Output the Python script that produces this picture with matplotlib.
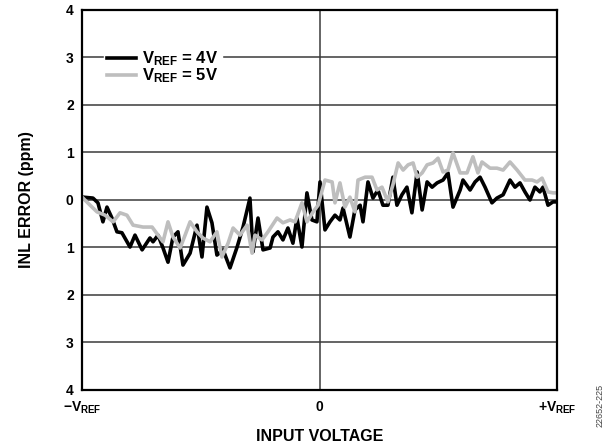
import matplotlib
matplotlib.use("Agg")
from matplotlib import pyplot as plt

plt.rcParams['font.family'] = ['Liberation Sans', 'DejaVu Sans']
plt.rcParams['font.weight'] = 'bold'
plt.rcParams['mathtext.fontset'] = 'custom'
plt.rcParams['mathtext.rm'] = 'Liberation Sans:bold'
plt.rcParams['mathtext.bf'] = 'Liberation Sans:bold'
plt.rcParams['mathtext.it'] = 'Liberation Sans:bold'

# input voltage as fraction of VREF, INL error in ppm
x_4v = [-0.996, -0.954, -0.933, -0.912, -0.895, -0.874, -0.853, -0.832, -0.798, -0.777,
        -0.747, -0.714, -0.701, -0.680, -0.659, -0.638, -0.617, -0.596, -0.575, -0.545,
        -0.516, -0.495, -0.474, -0.453, -0.432, -0.406, -0.377, -0.347, -0.322, -0.293,
        -0.280, -0.259, -0.238, -0.208, -0.196, -0.175, -0.154, -0.133, -0.112, -0.095,
        -0.074, -0.053, -0.032, -0.011, 0.002, 0.023, 0.044, 0.065, 0.086, 0.099,
        0.128, 0.149, 0.171, 0.183, 0.204, 0.225, 0.246, 0.267, 0.288, 0.309,
        0.326, 0.347, 0.368, 0.389, 0.411, 0.432, 0.453, 0.474, 0.495, 0.520,
        0.541, 0.562, 0.592, 0.604, 0.634, 0.655, 0.676, 0.697, 0.726, 0.747,
        0.773, 0.802, 0.823, 0.844, 0.865, 0.886, 0.907, 0.928, 0.941, 0.962,
        0.983, 1.0]
inl_4v = [0.06, 0.04, -0.06, -0.46, -0.15, -0.38, -0.67, -0.69, -0.99, -0.74,
          -1.05, -0.80, -0.88, -0.74, -1.01, -1.31, -0.78, -0.67, -1.37, -1.12,
          -0.53, -1.20, -0.15, -0.48, -1.16, -1.05, -1.43, -0.99, -0.57, 0.04,
          -1.09, -0.38, -1.05, -1.01, -0.78, -0.67, -0.84, -0.59, -0.91, -0.38,
          -0.99, 0.15, -0.42, -0.46, 0.38, -0.63, -0.46, -0.32, -0.42, -0.17,
          -0.78, -0.21, -0.11, -0.46, 0.38, 0.04, 0.21, -0.11, -0.11, 0.48,
          -0.11, 0.11, 0.27, -0.27, 0.59, -0.21, 0.38, 0.27, 0.36, 0.42,
          0.57, -0.15, 0.21, 0.42, 0.21, 0.38, 0.48, 0.27, -0.06, 0.04,
          0.11, 0.42, 0.27, 0.36, 0.17, 0.0, 0.27, 0.17, 0.27, -0.11,
          -0.04, -0.04]

x_5v = [-0.996, -0.966, -0.937, -0.903, -0.869, -0.840, -0.811, -0.785, -0.743, -0.705,
        -0.680, -0.659, -0.638, -0.617, -0.587, -0.566, -0.545, -0.516, -0.491, -0.461,
        -0.432, -0.411, -0.385, -0.364, -0.335, -0.305, -0.284, -0.272, -0.242, -0.217,
        -0.179, -0.154, -0.124, -0.103, -0.074, -0.053, -0.027, -0.006, 0.023, 0.053,
        0.065, 0.086, 0.107, 0.128, 0.149, 0.162, 0.192, 0.221, 0.242, 0.263,
        0.288, 0.309, 0.331, 0.352, 0.373, 0.394, 0.411, 0.432, 0.453, 0.478,
        0.499, 0.520, 0.541, 0.562, 0.592, 0.621, 0.646, 0.667, 0.684, 0.718,
        0.747, 0.773, 0.802, 0.832, 0.865, 0.895, 0.916, 0.937, 0.962, 0.983,
        1.0]
inl_5v = [0.04, -0.11, -0.25, -0.32, -0.46, -0.27, -0.32, -0.53, -0.57, -0.57,
          -0.74, -0.88, -0.46, -0.78, -1.01, -0.74, -0.46, -0.67, -0.80, -0.88,
          -0.67, -1.20, -0.91, -0.59, -0.74, -0.53, -1.12, -0.74, -0.84, -0.67,
          -0.38, -0.48, -0.42, -0.46, -0.06, -0.46, -0.25, -0.11, 0.42, 0.38,
          -0.06, 0.36, -0.15, 0.06, -0.25, 0.42, 0.48, 0.48, 0.21, 0.27,
          -0.04, 0.32, 0.78, 0.63, 0.74, 0.78, 0.48, 0.57, 0.74, 0.78,
          0.88, 0.59, 0.63, 0.99, 0.57, 0.57, 0.91, 0.57, 0.80, 0.67,
          0.67, 0.63, 0.80, 0.63, 0.42, 0.42, 0.38, 0.46, 0.17, 0.15,
          0.15]

y_ticks = [-4, -3, -2, -1, 0, 1, 2, 3, 4]
y_tick_labels = ['4', '3', '2', '1', '0', '1', '2', '3', '4']
x_ticks = [-1, 0, 1]
x_tick_labels = [r'$\mathregular{-V_{REF}}$', '0', r'$\mathregular{+V_{REF}}$']

fig = plt.figure(figsize=(6.14, 4.46), dpi=100)
ax = fig.add_axes([0.1336, 0.1256, 0.7736, 0.852])

for yv in y_ticks:
    ax.axhline(yv, color='#3a3a3a', lw=1.1, zorder=1)
ax.axvline(0, color='#3a3a3a', lw=1.1, zorder=1)

ax.plot(x_4v, inl_4v, color='black', lw=2.6, label=r'$\mathregular{V_{REF}}$ = 4V', zorder=3)
ax.plot(x_5v, inl_5v, color='#bebebe', lw=2.6, label=r'$\mathregular{V_{REF}}$ = 5V', zorder=3)

ax.set_xlim(-1, 1)
ax.set_ylim(-4, 4)
ax.set_yticks(y_ticks)
ax.set_yticklabels(y_tick_labels)
ax.set_xticks(x_ticks)
ax.set_xticklabels(x_tick_labels)
ax.tick_params(length=0, labelsize=10)
ax.tick_params(axis='y', pad=6)
ax.tick_params(axis='x', pad=7)
for s in ax.spines.values():
    s.set_linewidth(1.6)
    s.set_zorder(4)

ax.set_ylabel('INL ERROR (ppm)', fontsize=11.5, fontweight='bold', labelpad=23)
ax.set_xlabel('INPUT VOLTAGE', fontsize=11.5, fontweight='bold', labelpad=9)

leg = ax.legend(loc='upper left', bbox_to_anchor=(0.046, 0.905), frameon=True,
                fancybox=False, framealpha=1, edgecolor='white', facecolor='white',
                fontsize=12, handlelength=1.7, handletextpad=0.4, labelspacing=-0.08,
                borderpad=0.2, borderaxespad=0)
leg.set_zorder(5)

fig.text(0.978, 0.09, '22652-225', rotation=90, fontsize=6.5, fontweight='normal',
         color='#444444', ha='center', va='center')

fig.savefig('out.png', dpi=100)
